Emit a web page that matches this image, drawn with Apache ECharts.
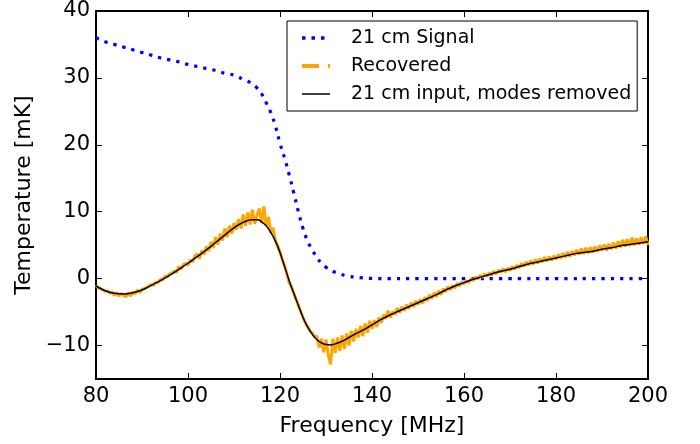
<!DOCTYPE html>
<html lang="en">
<head>
  <meta charset="UTF-8">
  <title>21 cm signal recovery</title>
  <script src="https://cdn.jsdelivr.net/npm/echarts@6/dist/echarts.min.js"></script>
  <style>
    body { margin: 0; background: #fff; }
    #chart { width: 700px; height: 444px; }
  </style>
</head>
<body>
  <div id="chart"></div>
  <script>
    // 21 cm Signal (blue dotted)
    var signalFreq = [80, 82, 84, 86, 88, 90, 92, 94, 96, 98, 100, 102, 104, 106, 108, 110, 112, 113, 114, 115, 116, 117, 118, 119, 120,
      121, 122, 123, 124, 125, 126, 127, 128, 129, 130, 131, 132, 133, 134, 135, 136, 138, 140, 142, 150, 160, 170, 180, 190, 200];
    var signalTemp = [36, 35.4, 35, 34.6, 34.2, 33.8, 33.4, 33, 32.7, 32.4, 32, 31.7, 31.4, 31.1, 30.7, 30.4, 29.8, 29.5, 29.1, 28.5, 27.6, 26.3, 24.8, 22.8, 20.2,
      18, 15.5, 12.8, 10, 7.5, 5.6, 4.3, 3.2, 2.3, 1.7, 1.25, 0.95, 0.7, 0.5, 0.35, 0.25, 0.1, 0.03, 0, 0, 0, 0, 0, 0, 0];

    // 21 cm input, modes removed (black)
    var inputFreq = [80, 82, 84, 86, 88, 90, 92, 94, 96, 98, 100, 102, 104, 106, 108, 110, 112, 114, 115, 116, 117, 118, 119, 120,
      121, 122, 123, 124, 125, 126, 127, 128, 129, 130, 131, 132, 133, 134, 135, 136, 138, 140, 142, 144, 146, 148, 150,
      152, 154, 156, 158, 160, 162, 164, 166, 168, 170, 172, 174, 176, 178, 180, 182, 184, 186, 188, 190, 192, 194, 196, 198, 200];
    var inputTemp = [-1.1, -1.8, -2.2, -2.3, -2.1, -1.7, -1.0, -0.3, 0.5, 1.4, 2.3, 3.3, 4.3, 5.4, 6.5, 7.6, 8.4, 8.8, 8.8, 8.5, 7.9, 6.9, 5.6, 3.9,
      1.8, -0.3, -2.2, -4.0, -5.8, -7.2, -8.3, -9.1, -9.6, -9.85, -9.9, -9.75, -9.5, -9.2, -8.8, -8.4, -7.7, -6.9, -6.1, -5.4, -4.8, -4.2, -3.6,
      -3.0, -2.4, -1.7, -1.1, -0.6, -0.1, 0.3, 0.7, 1.1, 1.4, 1.8, 2.2, 2.5, 2.8, 3.1, 3.4, 3.7, 3.9, 4.1, 4.4, 4.6, 4.9, 5.1, 5.3, 5.5];

    // Recovered (orange), sampled every 0.5 MHz from 80 MHz
    var recoveredStart = 80;
    var recoveredStep = 0.5;
    var recoveredTemp = [
      -1.0, -1.4, -1.5, -1.7, -1.9, -1.8, -2.2, -2.0, -2.5, -2.1, -2.6, -2.2, -2.5, -2.7, -2.1, -2.6, -2.0, -2.3, -1.7, -2.1, -1.6,
      -1.5, -1.3, -1.1, -0.9, -1.0, -0.5, -0.6, -0.1, -0.2, 0.4, 0.2, 0.7, 0.8, 1.2, 0.9, 1.8, 1.4, 2.1, 2.3, 2.0,
      2.8, 2.5, 3.4, 3.7, 3.0, 4.2, 3.6, 4.8, 4.1, 5.5, 4.6, 6.2, 5.1, 6.7, 5.7, 7.5, 6.2, 7.9, 6.7, 8.3,
      7.3, 8.9, 7.5, 9.6, 7.9, 9.9, 8.1, 10.3, 8.2, 9.5, 10.5, 8.3, 10.8, 7.9, 9.2, 6.8, 7.6, 5.7, 4.9, 4.0,
      2.8, 1.9, 0.7, -0.6, -1.2, -2.2, -3.1, -4.0, -4.9, -5.8, -6.6, -7.2, -7.8, -8.1, -8.7, -8.6, -10.3, -9.0, -11.0, -9.1,
      -11.4, -12.8, -9.0, -11.1, -8.8, -10.8, -8.5, -10.5, -8.2, -10.0, -7.8, -9.4, -7.5, -8.8, -7.1, -8.6, -6.7, -8.1, -6.3, -7.5,
      -6.2, -7.2, -5.8, -6.6, -5.4, -6.0, -4.8, -5.8, -4.9, -5.4, -4.4, -5.1, -4.2, -4.8, -3.9, -4.5, -3.6, -4.2, -3.3, -3.9,
      -3.1, -3.7, -2.8, -3.3, -2.4, -3.0, -2.1, -2.7, -1.8, -2.4, -1.5, -2.0, -1.2, -1.7, -1.0, -1.4, -0.7, -1.1, -0.5, -0.8,
      -0.3, -0.6, 0.0, -0.3, 0.3, -0.1, 0.5, 0.2, 0.7, 0.3, 0.9, 0.5, 1.1, 0.7, 1.3, 0.9, 1.5, 1.0, 1.6, 1.2,
      1.8, 1.4, 2.0, 1.6, 2.3, 1.8, 2.5, 2.0, 2.7, 2.1, 2.9, 2.3, 3.0, 2.5, 3.2, 2.6, 3.3, 2.7, 3.4, 2.9,
      3.6, 3.0, 3.8, 3.2, 4.0, 3.3, 4.1, 3.5, 4.3, 3.6, 4.5, 3.7, 4.6, 3.8, 4.7, 3.9, 4.8, 4.0, 5.0, 4.2,
      5.1, 4.2, 5.2, 4.4, 5.4, 4.5, 5.6, 4.7, 5.8, 4.8, 5.9, 4.9, 6.1, 5.0, 6.0, 5.1, 6.2, 5.2, 6.3, 5.0
    ];

    var xTicks = [80, 100, 120, 140, 160, 180, 200];
    var yTicks = [-10, 0, 10, 20, 30, 40];

    function pairs(xs, ys) {
      var out = [];
      for (var i = 0; i < ys.length; i++) out.push([xs[i], ys[i]]);
      return out;
    }
    var recoveredData = [];
    for (var i = 0; i < recoveredTemp.length; i++) {
      recoveredData.push([recoveredStart + i * recoveredStep, recoveredTemp[i]]);
    }

    var font = 'DejaVu Sans';
    var chart = echarts.init(document.getElementById('chart'), null, { renderer: 'canvas' });

    function xAxisDef(pos, show) {
      return {
        type: 'value', position: pos, min: 80, max: 200,
        name: show ? 'Frequency [MHz]' : '', nameLocation: 'middle', nameGap: 36,
        nameTextStyle: { fontFamily: font, fontSize: 22, color: '#000' },
        axisLine: { show: true, onZero: false, lineStyle: { color: '#000', width: 2 } },
        axisTick: { show: true, inside: true, length: 6, customValues: xTicks, lineStyle: { color: '#000', width: 1 } },
        axisLabel: { show: show, customValues: xTicks, margin: 7, fontFamily: font, fontSize: 21, color: '#000' },
        splitLine: { show: false }
      };
    }
    function yAxisDef(pos, show) {
      return {
        type: 'value', position: pos, min: -15, max: 40,
        name: show ? 'Temperature [mK]' : '', nameLocation: 'middle', nameGap: 60,
        nameTextStyle: { fontFamily: font, fontSize: 22, color: '#000' },
        axisLine: { show: true, onZero: false, lineStyle: { color: '#000', width: 2 } },
        axisTick: { show: true, inside: true, length: 6, customValues: yTicks, lineStyle: { color: '#000', width: 1 } },
        axisLabel: { show: show, customValues: yTicks, margin: 6, fontFamily: font, fontSize: 21, color: '#000',
          formatter: function (v) { return v < 0 ? '\u2212' + Math.abs(v) : String(v); } },
        splitLine: { show: false }
      };
    }

    var option = {
      animation: false,
      backgroundColor: '#fff',
      grid: { left: 96, right: 52, top: 11, bottom: 65 },
      xAxis: [xAxisDef('bottom', true), xAxisDef('top', false)],
      yAxis: [yAxisDef('left', true), yAxisDef('right', false)],
      legend: {
        orient: 'vertical', left: 287, top: 21,
        padding: [6, 6, 6, 13], itemGap: 6,
        itemWidth: 28, itemHeight: 14,
        backgroundColor: '#fff', borderColor: '#000', borderWidth: 1, borderRadius: 0,
        itemStyle: { opacity: 0 },
        textStyle: { fontFamily: font, fontSize: 19, lineHeight: 22, color: '#000', padding: [0, 0, 0, 16] },
        data: [
          { name: '21 cm Signal', lineStyle: { width: 3.5, type: [3.5, 6], cap: 'butt' } },
          { name: 'Recovered', lineStyle: { width: 4, type: [17, 9], cap: 'butt' } },
          { name: '21 cm input, modes removed', lineStyle: { width: 1.5 } }
        ]
      },
      series: [
        {
          name: '21 cm Signal', type: 'line', symbol: 'none', smooth: true,
          data: pairs(signalFreq, signalTemp),
          lineStyle: { color: '#0000ff', width: 3.2, type: [3.2, 6.1], cap: 'butt' },
          itemStyle: { color: '#0000ff' }
        },
        {
          name: 'Recovered', type: 'line', symbol: 'none',
          data: recoveredData,
          lineStyle: { color: '#ffa500', width: 3 },
          itemStyle: { color: '#ffa500' }
        },
        {
          name: '21 cm input, modes removed', type: 'line', symbol: 'none', smooth: true,
          data: pairs(inputFreq, inputTemp),
          lineStyle: { color: '#000', width: 1.5 },
          itemStyle: { color: '#000' }
        }
      ]
    };
    chart.setOption(option);
  </script>
</body>
</html>
